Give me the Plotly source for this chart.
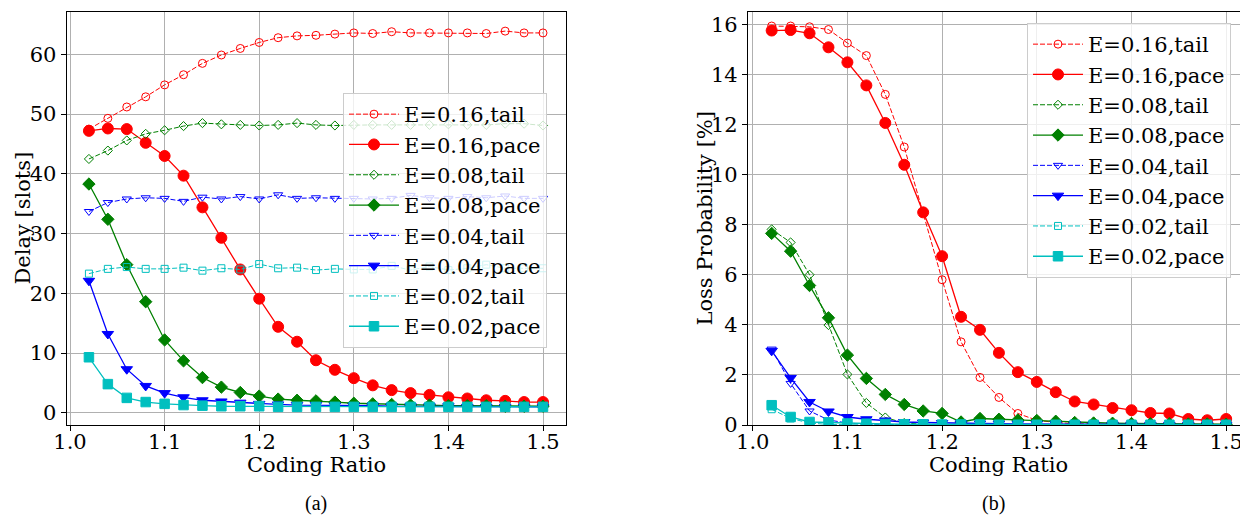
import plotly.graph_objects as go

W, H = 1240, 517

coding_ratio = [1.02, 1.04, 1.06, 1.08, 1.10, 1.12, 1.14, 1.16, 1.18, 1.20, 1.22, 1.24, 1.26,
                1.28, 1.30, 1.32, 1.34, 1.36, 1.38, 1.40, 1.42, 1.44, 1.46, 1.48, 1.50]

series_labels = ["E=0.16,tail", "E=0.16,pace", "E=0.08,tail", "E=0.08,pace",
                 "E=0.04,tail", "E=0.04,pace", "E=0.02,tail", "E=0.02,pace"]

# (a) Delay [slots]
delay_016_tail = [47.5, 49.3, 51.2, 52.9, 54.9, 56.6, 58.5, 59.9, 61.0, 62.0, 62.8, 63.1, 63.2,
                  63.4, 63.6, 63.5, 63.8, 63.6, 63.6, 63.6, 63.6, 63.5, 63.9, 63.6, 63.6]
delay_016_pace = [47.2, 47.6, 47.5, 45.2, 43.0, 39.7, 34.4, 29.3, 24.0, 19.1, 14.4, 11.9, 8.8,
                  7.2, 5.8, 4.6, 3.8, 3.3, 3.0, 2.6, 2.4, 2.1, 2.0, 1.8, 1.8]
delay_008_tail = [42.5, 43.9, 45.6, 46.7, 47.3, 48.0, 48.5, 48.3, 48.2, 48.1, 48.2, 48.5, 48.2,
                  48.1, 48.2, 48.2, 48.2, 48.2, 48.2, 48.3, 48.2, 48.2, 48.4, 48.4, 48.1]
delay_008_pace = [38.3, 32.4, 24.8, 18.6, 12.2, 8.7, 5.9, 4.3, 3.4, 2.8, 2.3, 2.1, 2.0,
                  1.8, 1.6, 1.5, 1.4, 1.3, 1.3, 1.2, 1.2, 1.2, 1.1, 1.1, 1.1]
delay_004_tail = [33.7, 35.2, 35.8, 36.0, 35.9, 35.4, 36.1, 35.8, 36.2, 35.8, 36.5, 35.9, 36.0,
                  35.9, 35.9, 35.8, 35.9, 36.4, 36.0, 35.9, 36.2, 36.0, 36.3, 35.9, 35.9]
delay_004_pace = [22.1, 13.2, 7.3, 4.5, 3.3, 2.6, 2.1, 1.9, 1.7, 1.5, 1.4, 1.3, 1.3,
                  1.2, 1.2, 1.2, 1.1, 1.1, 1.1, 1.1, 1.0, 1.0, 1.0, 1.0, 1.0]
delay_002_tail = [23.3, 24.1, 24.4, 24.1, 24.1, 24.3, 23.8, 24.2, 24.0, 24.9, 24.2, 24.3, 23.9,
                  24.1, 24.0, 24.0, 24.6, 23.9, 24.5, 23.9, 24.2, 24.8, 24.2, 24.2, 24.2]
delay_002_pace = [9.3, 4.8, 2.5, 1.8, 1.5, 1.3, 1.2, 1.1, 1.1, 1.1, 1.0, 1.0, 1.0,
                  1.0, 1.0, 1.0, 1.0, 1.0, 1.0, 1.0, 1.0, 1.0, 1.0, 1.0, 1.0]

# (b) Loss Probability [%]
loss_016_tail = [15.93, 15.93, 15.90, 15.79, 15.25, 14.75, 13.2, 11.1, 8.5, 5.8, 3.32, 1.9, 1.1,
                 0.46, 0.19, 0.10, 0.05, 0.03, 0.02, 0.01, 0.01, 0.0, 0.0, 0.0, 0.0]
loss_016_pace = [15.75, 15.77, 15.64, 15.08, 14.48, 13.56, 12.06, 10.39, 8.49, 6.74, 4.32, 3.80, 2.88,
                 2.11, 1.72, 1.31, 0.94, 0.82, 0.68, 0.59, 0.48, 0.46, 0.24, 0.19, 0.24]
loss_008_tail = [7.81, 7.29, 6.00, 3.99, 2.02, 0.88, 0.30, 0.08, 0.03, 0.02, 0.01, 0.0, 0.0,
                 0.0, 0.0, 0.0, 0.0, 0.0, 0.0, 0.0, 0.0, 0.0, 0.0, 0.0, 0.0]
loss_008_pace = [7.65, 6.94, 5.57, 4.28, 2.79, 1.86, 1.22, 0.82, 0.56, 0.46, 0.12, 0.26, 0.23,
                 0.20, 0.18, 0.15, 0.10, 0.08, 0.07, 0.06, 0.05, 0.05, 0.04, 0.04, 0.03]
loss_004_tail = [3.03, 1.66, 0.56, 0.20, 0.08, 0.03, 0.02, 0.01, 0.0, 0.0, 0.0, 0.0, 0.0,
                 0.0, 0.0, 0.0, 0.0, 0.0, 0.0, 0.0, 0.0, 0.0, 0.0, 0.0, 0.0]
loss_004_pace = [2.96, 1.88, 0.92, 0.54, 0.32, 0.23, 0.18, 0.12, 0.10, 0.08, 0.07, 0.06, 0.05,
                 0.04, 0.04, 0.03, 0.03, 0.02, 0.02, 0.02, 0.01, 0.01, 0.01, 0.01, 0.01]
loss_002_tail = [0.63, 0.26, 0.08, 0.02, 0.01, 0.0, 0.0, 0.0, 0.0, 0.0, 0.0, 0.0, 0.0,
                 0.0, 0.0, 0.0, 0.0, 0.0, 0.0, 0.0, 0.0, 0.0, 0.0, 0.0, 0.0]
loss_002_pace = [0.79, 0.32, 0.12, 0.10, 0.06, 0.05, 0.04, 0.03, 0.03, 0.02, 0.02, 0.02, 0.01,
                 0.01, 0.01, 0.01, 0.01, 0.01, 0.01, 0.01, 0.01, 0.01, 0.01, 0.01, 0.01]

x_ticks = [1.0, 1.1, 1.2, 1.3, 1.4, 1.5]
delay_ticks = [0, 10, 20, 30, 40, 50, 60]
loss_ticks = [0, 2, 4, 6, 8, 10, 12, 14, 16]

delay_series = [delay_016_tail, delay_016_pace, delay_008_tail, delay_008_pace,
                delay_004_tail, delay_004_pace, delay_002_tail, delay_002_pace]
loss_series = [loss_016_tail, loss_016_pace, loss_008_tail, loss_008_pace,
               loss_004_tail, loss_004_pace, loss_002_tail, loss_002_pace]

RED, GREEN, BLUE, CYAN = "#ff0000", "#008000", "#0000ff", "#00bfbf"
styles = [
    dict(color=RED, symbol="circle-open", size=8, dash="5px,2px", lw=1),
    dict(color=RED, symbol="circle", size=11, dash="solid", lw=1.3),
    dict(color=GREEN, symbol="diamond-open", size=7, dash="5px,2px", lw=1),
    dict(color=GREEN, symbol="diamond", size=9.5, dash="solid", lw=1.3),
    dict(color=BLUE, symbol="triangle-down-open", size=8, dash="5px,2px", lw=1),
    dict(color=BLUE, symbol="triangle-down", size=10, dash="solid", lw=1.3),
    dict(color=CYAN, symbol="square-open", size=7, dash="5px,2px", lw=1),
    dict(color=CYAN, symbol="square", size=9.5, dash="solid", lw=1.3),
]

FONT = "DejaVu Serif"
FS = 21

fig = go.Figure()
for panel, (data, xa, ya, leg) in enumerate([(delay_series, "x", "y", "legend"),
                                             (loss_series, "x2", "y2", "legend2")]):
    for i, (lab, ys) in enumerate(zip(series_labels, data)):
        s = styles[i]
        fig.add_trace(go.Scatter(
            x=coding_ratio, y=ys, name=lab, mode="lines+markers",
            xaxis=xa, yaxis=ya, legend=leg,
            line=dict(color=s["color"], width=s["lw"], dash=s["dash"]),
            marker=dict(symbol=s["symbol"], size=s["size"], color=s["color"],
                        line=dict(color=s["color"], width=1)),
        ))

def px_x(p):
    return p / W

def px_y(p):
    return 1 - p / H

axis_common = dict(
    showgrid=True, gridcolor="#b0b0b0", gridwidth=1, zeroline=False,
    showline=True, linecolor="black", linewidth=1.2, automargin=False,
    ticks="outside", ticklen=5, tickwidth=1, tickcolor="black",
    tickfont=dict(family=FONT, size=FS, color="black"),
)

legend_common = dict(
    xanchor="left", yanchor="top",
    bgcolor="rgba(255,255,255,0.8)", bordercolor="#cccccc", borderwidth=1,
    font=dict(family=FONT, size=FS, color="black"),
    traceorder="normal", itemwidth=50,
)

fig.update_layout(
    width=W, height=H, margin=dict(l=0, r=0, t=0, b=0, pad=0, autoexpand=False),
    paper_bgcolor="white", plot_bgcolor="white",
    font=dict(family=FONT, size=FS, color="black"),
    xaxis=dict(domain=[px_x(66.7), px_x(566)], range=[0.9965, 1.5243], ticklabelstandoff=-7,
               tickvals=x_ticks, tickformat=".1f", mirror=True, anchor="y", **axis_common),
    yaxis=dict(domain=[px_y(425), px_y(12)], range=[-2.04, 67.1],
               tickvals=delay_ticks, mirror=True, anchor="x", **axis_common),
    xaxis2=dict(domain=[px_x(748), 1.0], range=[0.995, 1.5146], ticklabeloverflow="allow",
                ticklabelstandoff=-7,
                tickvals=x_ticks, tickformat=".1f", mirror=True, anchor="y2", **axis_common),
    yaxis2=dict(domain=[px_y(425), px_y(12)], range=[0, 16.49],
                tickvals=loss_ticks, mirror=False, anchor="x2", **axis_common),
    legend=dict(x=px_x(343), y=px_y(93), **legend_common),
    legend2=dict(x=px_x(1027), y=px_y(23), **legend_common),
)

ann = [
    dict(text="Delay [slots]", x=px_x(22), y=px_y(218.5), textangle=-90),
    dict(text="Loss Probability [%]", x=px_x(704), y=px_y(218.5), textangle=-90),
    dict(text="Coding Ratio", x=px_x(316), y=px_y(465)),
    dict(text="Coding Ratio", x=px_x(998), y=px_y(465)),
]
for a in ann:
    fig.add_annotation(xref="paper", yref="paper", showarrow=False,
                       xanchor="center", yanchor="middle",
                       font=dict(family=FONT, size=FS, color="black"), **a)
for t, xc in [("(a)", 316), ("(b)", 993)]:
    fig.add_annotation(xref="paper", yref="paper", showarrow=False, text=t,
                       x=px_x(xc), y=px_y(503), xanchor="center", yanchor="middle",
                       font=dict(family="Liberation Serif", size=20, color="black"))

fig.write_html("out.html")
